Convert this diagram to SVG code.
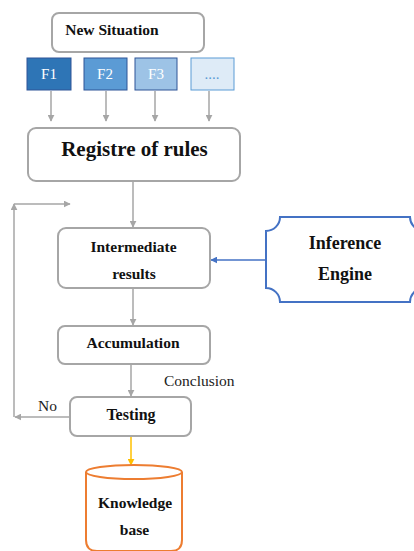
<svg xmlns="http://www.w3.org/2000/svg" width="414" height="551" viewBox="0 0 414 551">
<style>
.box{fill:#fff;stroke:#A6A6A6;stroke-width:2}
.t{font-family:"Liberation Serif","Times New Roman",serif;font-weight:bold;fill:#111;text-anchor:middle}
.f{font-family:"Liberation Serif",serif;font-size:15px;fill:#fff;text-anchor:middle}
.c{fill:none;stroke:#A6A6A6;stroke-width:1.5}
.lbl{font-family:"Liberation Serif",serif;font-size:15.5px;fill:#222}
</style>
<defs>
<marker id="ag" viewBox="0 0 10 10" refX="9" refY="5" markerWidth="7" markerHeight="7" markerUnits="userSpaceOnUse" orient="auto"><path d="M0,0 L10,5 L0,10 Z" fill="#A6A6A6"/></marker>
<marker id="ab" viewBox="0 0 10 10" refX="9" refY="5" markerWidth="7" markerHeight="7" markerUnits="userSpaceOnUse" orient="auto"><path d="M0,0 L10,5 L0,10 Z" fill="#4472C4"/></marker>
<marker id="ay" viewBox="0 0 10 10" refX="9" refY="5" markerWidth="7" markerHeight="7" markerUnits="userSpaceOnUse" orient="auto"><path d="M0,0 L10,5 L0,10 Z" fill="#FFC000"/></marker>
</defs>
<g id="connectors">
<line class="c" x1="51" y1="91" x2="51" y2="121" marker-end="url(#ag)"/>
<line class="c" x1="106" y1="91" x2="106" y2="121" marker-end="url(#ag)"/>
<line class="c" x1="155" y1="91" x2="155" y2="121" marker-end="url(#ag)"/>
<line class="c" x1="209" y1="91" x2="209" y2="121" marker-end="url(#ag)"/>
<line class="c" x1="133" y1="181" x2="133" y2="227" marker-end="url(#ag)"/>
<line x1="265" y1="260" x2="211" y2="260" stroke="#4472C4" stroke-width="1.5" marker-end="url(#ab)"/>
<line class="c" x1="133" y1="288" x2="133" y2="325" marker-end="url(#ag)"/>
<line class="c" x1="131" y1="364" x2="131" y2="396" marker-end="url(#ag)"/>
<line class="c" x1="70" y1="417" x2="15" y2="417" marker-end="url(#ag)"/>
<line class="c" x1="14" y1="417" x2="14" y2="204" marker-end="url(#ag)"/>
<line class="c" x1="14" y1="204" x2="70" y2="204" marker-end="url(#ag)"/>
<line x1="131" y1="437" x2="131" y2="465" stroke="#FFC000" stroke-width="1.5" marker-end="url(#ay)"/>
<text class="lbl" x="164" y="386" fill="#333">Conclusion</text>
<text class="lbl" x="38" y="411">No</text>
</g>
<g id="new-situation">
<rect class="box" x="52" y="13" width="152" height="39" rx="7"/>
<text class="t" x="112" y="35" font-size="15.5">New Situation</text>
</g>
<g id="f1"><rect x="27" y="58" width="44" height="32" fill="#2E75B6" stroke="#2F5597" stroke-width="1"/><text class="f" x="49" y="79">F1</text></g>
<g id="f2"><rect x="84" y="58" width="43" height="32" fill="#5B9BD5" stroke="#2F5597" stroke-width="1"/><text class="f" x="105" y="79">F2</text></g>
<g id="f3"><rect x="135" y="58" width="42" height="32" fill="#9DC3E6" stroke="#2F5597" stroke-width="1"/><text class="f" x="156" y="79">F3</text></g>
<g id="f4"><rect x="191" y="58" width="43" height="32" fill="#DEEBF7" stroke="#5B9BD5" stroke-width="1"/><text class="f" x="212" y="79" style="fill:#5B9BD5">....</text></g>
<g id="registre">
<rect class="box" x="28" y="128" width="212" height="53" rx="8"/>
<text class="t" x="134.5" y="156" font-size="21">Registre of rules</text>
</g>
<g id="intermediate">
<rect class="box" x="58" y="228" width="152" height="60" rx="8"/>
<text class="t" x="133.5" y="252" font-size="15.5">Intermediate</text>
<text class="t" x="134" y="279" font-size="15.5">results</text>
</g>
<g id="inference-engine">
<path d="M266,231 A14 14 0 0 0 280,217 L410,217 A14 14 0 0 0 424,231 L424,288 A14 14 0 0 0 410,302 L280,302 A14 14 0 0 0 266,288 Z" fill="#fff" stroke="#4472C4" stroke-width="2"/>
<text class="t" x="345" y="249" font-size="18">Inference</text>
<text class="t" x="345" y="280" font-size="18">Engine</text>
</g>
<g id="accumulation">
<rect class="box" x="58" y="326" width="152" height="38" rx="7"/>
<text class="t" x="133" y="348" font-size="15.5">Accumulation</text>
</g>
<g id="testing">
<rect class="box" x="70" y="397" width="121" height="39" rx="7"/>
<text class="t" x="131" y="420" font-size="16">Testing</text>
</g>
<g id="knowledge-base">
<path d="M86,472 L86,540 Q86,551 97,551 L171,551 Q182,551 182,540 L182,472" fill="#fff" stroke="#ED7D31" stroke-width="2"/>
<ellipse cx="134" cy="472" rx="48" ry="7" fill="#fff" stroke="#ED7D31" stroke-width="2"/>
<text class="t" x="135" y="508" font-size="15.5">Knowledge</text>
<text class="t" x="134.5" y="535" font-size="15.5">base</text>
</g>
</svg>
